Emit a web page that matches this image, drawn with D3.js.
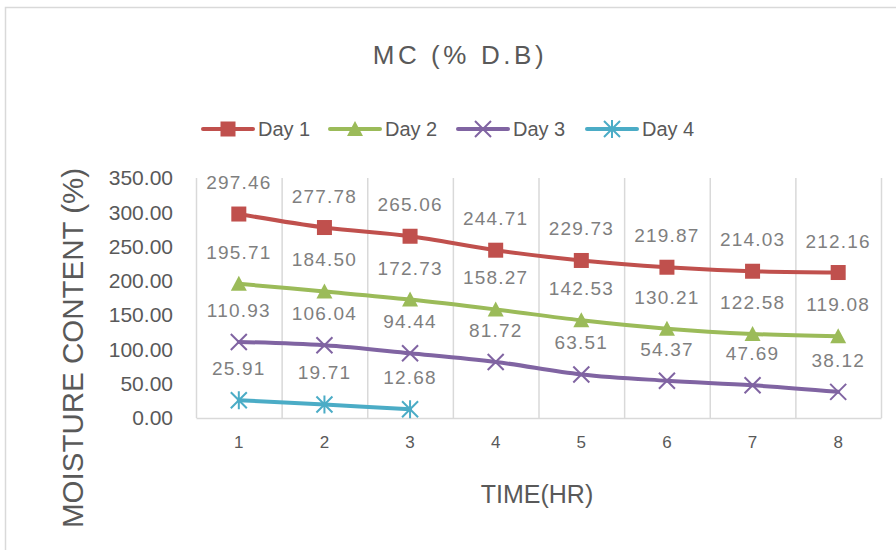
<!DOCTYPE html>
<html>
<head>
<meta charset="utf-8">
<script src="https://cdn.jsdelivr.net/npm/d3@7"></script>
<style>
  html, body { margin: 0; padding: 0; background: #fff; }
  svg { display: block; }
  text { font-family: "Liberation Sans", Arial, sans-serif; }
</style>
</head>
<body>
<svg id="chart" width="896" height="550"></svg>
<script>
// Drying time (hours) and moisture content (% dry basis) per day
const hours = [1, 2, 3, 4, 5, 6, 7, 8];
const day1 = [297.46, 277.78, 265.06, 244.71, 229.73, 219.87, 214.03, 212.16];
const day2 = [195.71, 184.50, 172.73, 158.27, 142.53, 130.21, 122.58, 119.08];
const day3 = [110.93, 106.04, 94.44, 81.72, 63.51, 54.37, 47.69, 38.12];
const day4 = [25.91, 19.71, 12.68];
const seriesNames = ["Day 1", "Day 2", "Day 3", "Day 4"];
const yTicks = [0, 50, 100, 150, 200, 250, 300, 350];

const colors = ["#c0504d", "#9bbb59", "#8064a2", "#4bacc6"];
const symbols = ["square", "triangle", "cross", "star"];
const seriesValues = [day1, day2, day3, day4];
const series = seriesNames.map((name, i) => ({
  name, color: colors[i], symbol: symbols[i],
  points: seriesValues[i].map((v, j) => ({ x: hours[j], y: v }))
}));

const svg = d3.select("#chart");
const plot = { left: 196, right: 881, top: 178, bottom: 418 };

// chart frame
svg.append("rect")
  .attr("x", 5.5).attr("y", 7.5).attr("width", 900).attr("height", 600)
  .attr("fill", "#fff").attr("stroke", "#d9d9d9").attr("stroke-width", 1.5);

const x = d3.scaleBand().domain(hours).range([plot.left, plot.right]).padding(0);
const y = d3.scaleLinear().domain([0, 350]).range([plot.bottom, plot.top]);
const cx = v => x(v) + x.bandwidth() / 2;

// title
svg.append("text")
  .attr("x", 460).attr("y", 64)
  .attr("text-anchor", "middle")
  .attr("font-size", 26).attr("letter-spacing", 3.6)
  .attr("fill", "#595959")
  .text("MC (% D.B)");

// vertical gridlines at category boundaries
const bounds = hours.map(h => x(h)).concat([plot.right]);
svg.append("g").selectAll("line").data(bounds).join("line")
  .attr("x1", d => d + 0.5).attr("x2", d => d + 0.5)
  .attr("y1", plot.top).attr("y2", plot.bottom)
  .attr("stroke", "#d9d9d9").attr("stroke-width", 1.5);

// x axis
const xAxis = svg.append("g")
  .attr("transform", `translate(0,${plot.bottom})`)
  .call(d3.axisBottom(x).tickSize(0).tickPadding(18));
xAxis.select(".domain").attr("stroke", "#d9d9d9").attr("stroke-width", 1.5);
xAxis.selectAll("text")
  .attr("font-size", 17).attr("fill", "#595959")
  .attr("font-family", "'Liberation Sans', Arial, sans-serif");

// y axis
const yAxis = svg.append("g")
  .attr("transform", `translate(${plot.left},0)`)
  .call(d3.axisLeft(y).tickValues(yTicks).tickFormat(d3.format(".2f")).tickSize(0).tickPadding(23));
yAxis.select(".domain").remove();
yAxis.selectAll("text")
  .attr("font-size", 21).attr("fill", "#595959")
  .attr("font-family", "'Liberation Sans', Arial, sans-serif");

// axis titles
svg.append("text")
  .attr("x", 537).attr("y", 503)
  .attr("text-anchor", "middle")
  .attr("font-size", 25).attr("fill", "#595959")
  .text("TIME(HR)");

svg.append("text")
  .attr("transform", "translate(83,348) rotate(-90)")
  .attr("text-anchor", "middle")
  .attr("font-size", 29.5)
  .attr("fill", "#595959")
  .text("MOISTURE CONTENT (%)");

// marker drawing
function drawMarker(g, kind, color) {
  if (kind === "square") {
    g.append("rect").attr("x", -7.5).attr("y", -7.5).attr("width", 15).attr("height", 15)
      .attr("fill", color);
  } else if (kind === "triangle") {
    g.append("path").attr("d", "M0,-8L8,7L-8,7Z").attr("fill", color);
  } else if (kind === "cross") {
    g.append("path").attr("d", "M-8,-8L8,8M-8,8L8,-8")
      .attr("stroke", color).attr("stroke-width", 2).attr("fill", "none");
  } else {
    g.append("path").attr("d", "M-8,-8L8,8M-8,8L8,-8M0,-9L0,9")
      .attr("stroke", color).attr("stroke-width", 2).attr("fill", "none");
  }
}

const line = d3.line().x(d => cx(d.x)).y(d => y(d.y)).curve(d3.curveCardinal.tension(0));

series.forEach(s => {
  const g = svg.append("g");
  g.append("path").datum(s.points)
    .attr("d", line)
    .attr("fill", "none").attr("stroke", s.color)
    .attr("stroke-width", 4).attr("stroke-linecap", "round");
  g.selectAll("g.pt").data(s.points).join("g")
    .attr("class", "pt")
    .attr("transform", d => `translate(${cx(d.x)},${y(d.y)})`)
    .each(function () { drawMarker(d3.select(this), s.symbol, s.color); });
  g.selectAll("text.lbl").data(s.points).join("text")
    .attr("class", "lbl")
    .attr("x", d => cx(d.x)).attr("y", d => y(d.y) - 25)
    .attr("text-anchor", "middle")
    .attr("font-size", 19).attr("letter-spacing", 1.2)
    .attr("fill", "#7f7f7f")
    .text(d => d3.format(".2f")(d.y));
});

// legend
const legendX = [203, 330, 458, 587];
const legendY = 129;
series.forEach((s, i) => {
  const g = svg.append("g").attr("transform", `translate(${legendX[i]},${legendY})`);
  g.append("line").attr("x1", 0).attr("x2", 50).attr("y1", 0).attr("y2", 0)
    .attr("stroke", s.color).attr("stroke-width", 4).attr("stroke-linecap", "round");
  const m = g.append("g").attr("transform", "translate(25,0)");
  drawMarker(m, s.symbol, s.color);
  g.append("text").attr("x", 55).attr("y", 7)
    .attr("font-size", 20).attr("fill", "#595959")
    .text(s.name);
});
</script>
</body>
</html>
